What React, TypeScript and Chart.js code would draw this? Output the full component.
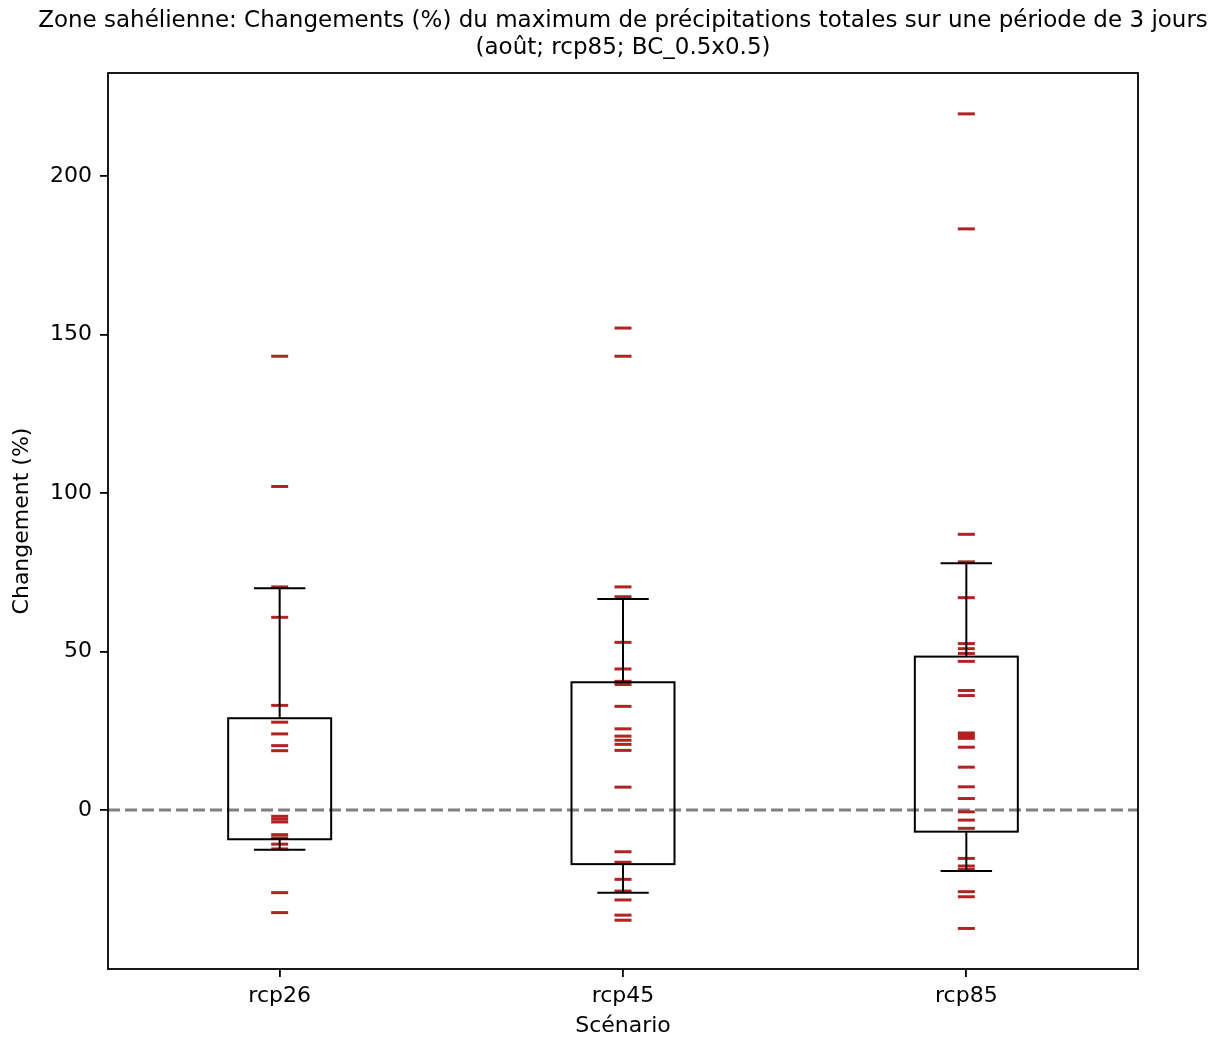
import React, { useEffect, useRef } from 'react';
import { Chart, registerables } from 'chart.js';

Chart.register(...registerables);

const titleLines = [
  'Zone sahélienne: Changements (%) du maximum de précipitations totales sur une période de 3 jours',
  '(août; rcp85; BC_0.5x0.5)',
];
const xAxisTitle = 'Scénario';
const yAxisTitle = 'Changement (%)';

const scenarios = ['rcp26', 'rcp45', 'rcp85'];

const rcp26Values = [143.2, 102.1, 70.4, 60.8, 33.0, 27.7, 24.0, 20.3, 18.7, -2.0, -2.9, -3.8, -7.8, -8.8, -10.8, -12.3, -26.1, -32.4];
const rcp45Values = [152.1, 143.2, 70.4, 67.3, 52.9, 44.5, 40.6, 39.6, 32.7, 25.6, 23.3, 22.0, 20.7, 18.8, 7.2, -13.2, -16.5, -21.9, -25.6, -28.4, -33.2, -34.8];
const rcp85Values = [219.7, 183.4, 87.0, 78.3, 67.0, 52.5, 50.9, 49.4, 46.9, 37.7, 36.1, 24.3, 23.5, 22.6, 19.8, 13.5, 7.3, 3.6, -0.6, -3.2, -5.8, -15.3, -17.7, -18.8, -25.8, -27.4, -37.4];
const seriesValues = [rcp26Values, rcp45Values, rcp85Values];

const boxLow = [-9.25, -17.1, -6.85];
const boxHigh = [28.95, 40.3, 48.4];
const whiskerLow = [-12.6, -26.1, -19.3];
const whiskerHigh = [70.0, 66.6, 77.9];

const yTicks = [0, 50, 100, 150, 200];
const yMin = -50.2;
const yMax = 232.6;
const referenceLine = 0;

const FONT = '"DejaVu Sans", sans-serif';
const MARK_COLOR = '#b22222';

const titlePlugin = {
  id: 'centeredTitle',
  afterDraw(chart: any) {
    const { ctx, chartArea } = chart;
    const cx = (chartArea.left + chartArea.right) / 2;
    const size = 23;
    const lh = size * 1.2;
    ctx.save();
    ctx.fillStyle = '#000';
    ctx.font = `normal ${size}px ${FONT}`;
    ctx.textAlign = 'center';
    ctx.textBaseline = 'middle';
    titleLines.forEach((line, i) => {
      ctx.fillText(line, cx, 7 + lh / 2 + i * lh);
    });
    ctx.restore();
  },
};

const boxPlugin = {
  id: 'boxPlugin',
  beforeDatasetsDraw(chart: any) {
    const { ctx, chartArea, scales } = chart;
    const y = scales.y.getPixelForValue(referenceLine);
    ctx.save();
    ctx.beginPath();
    ctx.rect(chartArea.left, chartArea.top, chartArea.right - chartArea.left, chartArea.bottom - chartArea.top);
    ctx.clip();
    ctx.strokeStyle = '#808080';
    ctx.lineWidth = 3;
    ctx.setLineDash([12, 5]);
    ctx.beginPath();
    ctx.moveTo(chartArea.left, y);
    ctx.lineTo(chartArea.right, y);
    ctx.stroke();
    ctx.restore();
  },
  afterDatasetsDraw(chart: any) {
    const { ctx, scales } = chart;
    const xs = scales.x;
    const ys = scales.y;
    ctx.save();
    ctx.strokeStyle = '#000';
    ctx.lineWidth = 2;
    ctx.setLineDash([]);
    scenarios.forEach((_, i) => {
      const cx = xs.getPixelForValue(i + 1);
      const half = xs.getPixelForValue(i + 1 + 0.15) - cx;
      const capHalf = xs.getPixelForValue(i + 1 + 0.075) - cx;
      const bTop = ys.getPixelForValue(boxHigh[i]);
      const bBot = ys.getPixelForValue(boxLow[i]);
      const wTop = ys.getPixelForValue(whiskerHigh[i]);
      const wBot = ys.getPixelForValue(whiskerLow[i]);
      ctx.strokeRect(cx - half, bTop, half * 2, bBot - bTop);
      ctx.beginPath();
      ctx.moveTo(cx, bTop);
      ctx.lineTo(cx, wTop);
      ctx.moveTo(cx - capHalf, wTop);
      ctx.lineTo(cx + capHalf, wTop);
      ctx.moveTo(cx, bBot);
      ctx.lineTo(cx, wBot);
      ctx.moveTo(cx - capHalf, wBot);
      ctx.lineTo(cx + capHalf, wBot);
      ctx.stroke();
    });
    ctx.restore();
  },
  afterDraw(chart: any) {
    const { ctx, chartArea } = chart;
    ctx.save();
    ctx.strokeStyle = '#000';
    ctx.lineWidth = 1.8;
    ctx.strokeRect(chartArea.left, chartArea.top, chartArea.right - chartArea.left, chartArea.bottom - chartArea.top);
    ctx.restore();
  },
};

export default function App() {
  const ref = useRef<HTMLCanvasElement>(null);
  useEffect(() => {
    const canvas = ref.current;
    if (!canvas) return;
    const datasets = seriesValues.map((vals, i) => ({
      type: 'scatter' as const,
      label: scenarios[i],
      data: vals.map((v) => ({ x: i + 1, y: v })),
      pointStyle: 'line',
      radius: 8.5,
      hoverRadius: 8.5,
      borderColor: MARK_COLOR,
      backgroundColor: MARK_COLOR,
      borderWidth: 3,
    }));
    const chart = new Chart(canvas, {
      type: 'scatter',
      data: { datasets },
      options: {
        responsive: false,
        animation: false,
        devicePixelRatio: 1,
        events: [],
        layout: { padding: { left: 0, right: 73, top: 73, bottom: 0 } },
        plugins: {
          legend: { display: false },
          tooltip: { enabled: false },
          title: { display: false },
        },
        scales: {
          x: {
            type: 'linear',
            min: 0.5,
            max: 3.5,
            afterBuildTicks: (s: any) => {
              s.ticks = scenarios.map((_, i) => ({ value: i + 1 }));
            },
            afterFit: (s: any) => {
              s.height = 70;
            },
            ticks: {
              callback: (v: any) => scenarios[Math.round(Number(v)) - 1] ?? '',
              color: '#000',
              font: { family: FONT, size: 22 },
              padding: 6,
              maxRotation: 0,
            },
            grid: { drawOnChartArea: false, drawTicks: true, tickLength: 8, color: '#000', lineWidth: 1.8 },
            border: { display: false },
            title: {
              display: true,
              text: xAxisTitle,
              color: '#000',
              font: { family: FONT, size: 22 },
              padding: { top: 0, bottom: 0 },
            },
          },
          y: {
            type: 'linear',
            min: yMin,
            max: yMax,
            afterBuildTicks: (s: any) => {
              s.ticks = yTicks.map((v) => ({ value: v }));
            },
            afterFit: (s: any) => {
              s.width = 108;
            },
            ticks: {
              color: '#000',
              font: { family: FONT, size: 22 },
              padding: 8,
            },
            grid: { drawOnChartArea: false, drawTicks: true, tickLength: 8, color: '#000', lineWidth: 1.8 },
            border: { display: false },
            title: {
              display: true,
              text: yAxisTitle,
              color: '#000',
              font: { family: FONT, size: 22 },
              padding: { top: 9, bottom: 0 },
            },
          },
        },
      },
      plugins: [boxPlugin, titlePlugin],
    } as any);
    return () => chart.destroy();
  }, []);
  return (
    <div style={{ position: 'absolute', left: 0, top: 0, width: 1211, height: 1039, background: '#fff' }}>
      <canvas ref={ref} width={1211} height={1039} style={{ display: 'block' }} />
    </div>
  );
}
